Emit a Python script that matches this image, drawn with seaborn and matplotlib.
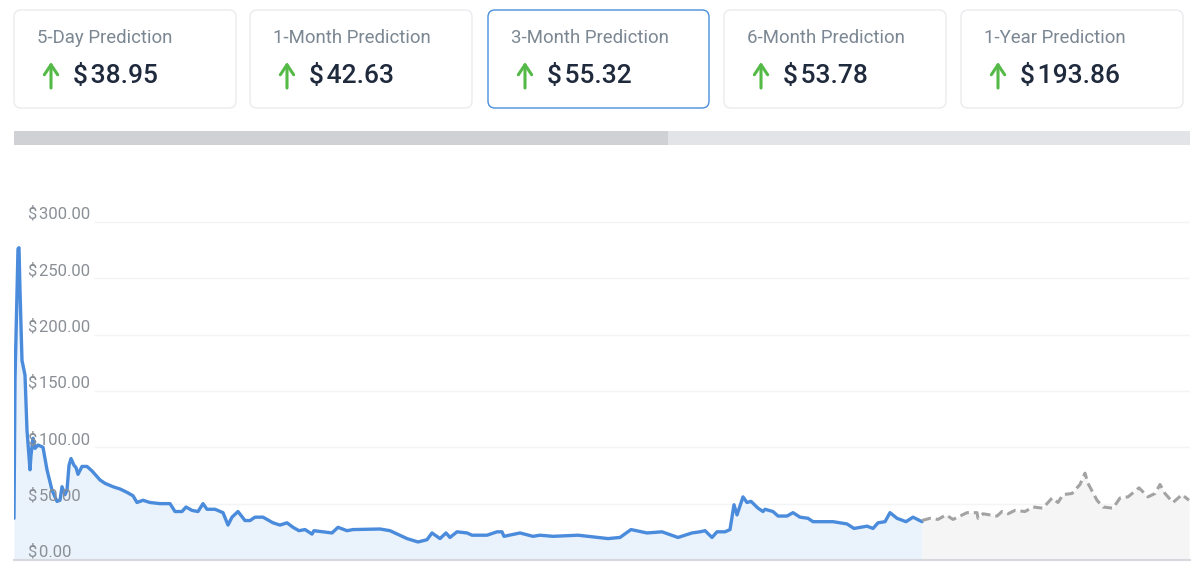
import matplotlib
matplotlib.use("Agg")
import matplotlib.pyplot as plt
import pandas as pd
import seaborn as sns
from matplotlib.patches import FancyBboxPatch, Rectangle

# Prediction cards
card_titles = ["5-Day Prediction", "1-Month Prediction", "3-Month Prediction", "6-Month Prediction", "1-Year Prediction"]
card_values = [38.95, 42.63, 55.32, 53.78, 193.86]
active_card = 2

price_ticks = [0, 50, 100, 150, 200, 250, 300]

# Price history
hist_day = [0, 1, 4, 5, 6, 8, 11, 13, 16, 17, 19, 21, 24, 29, 33, 38, 43, 46, 48, 51, 53, 55, 57, 60, 62, 64, 68, 73, 78,
            86, 91, 99, 106, 113, 119, 123, 129, 136, 146, 156, 161, 168, 172, 178, 184, 189, 193, 201, 209, 214, 218,
            224, 231, 236, 241, 249, 259, 266, 273, 279, 285, 291, 298, 300, 309, 318, 324, 333, 339, 366, 376, 393,
            404, 413, 418, 426, 432, 436, 443, 453, 458, 473, 483, 488, 490, 506, 519, 526, 539, 564, 594, 606, 617,
            633, 648, 664, 678, 686, 691, 698, 703, 711, 716, 720, 723, 729, 733, 737, 744, 749, 751, 759, 764, 773,
            779, 786, 794, 799, 819, 833, 840, 853, 859, 864, 871, 876, 883, 892, 899, 908]
hist_price = [37, 160, 276, 277, 239, 177, 164, 115, 80, 93, 108, 99, 102, 100, 80, 62, 52, 53, 65, 58, 62, 84, 90, 84, 82, 76, 83, 83, 79,
              71, 68, 65, 63, 60, 57, 51, 53, 51, 50, 50, 43, 43, 47, 44, 43, 50, 45, 45, 42, 31, 38,
              43, 35, 35, 38, 38, 33, 31, 33, 29, 26, 27, 23, 26, 25, 24, 29, 26, 27, 27.5, 26, 19,
              16, 18, 24, 19, 24, 20, 25, 24, 22, 22, 25, 25, 21, 24, 21, 22, 21, 22, 19, 20, 27,
              24, 25, 20, 24, 25, 26, 20, 25, 25, 27, 49, 40, 56, 51, 52, 46, 43, 45, 43, 39, 39,
              42, 38, 37, 34, 34, 32, 28, 30, 28, 33, 34, 42, 37, 34, 38, 34]

# Forecast part
pred_day = [908, 916, 924, 932, 939, 953, 963, 964, 969, 983, 988, 994, 1001, 1011, 1019, 1029, 1038, 1044, 1049, 1058,
            1066, 1071, 1074, 1083, 1089, 1099, 1106, 1114, 1125, 1134, 1141, 1146, 1151, 1159, 1168, 1175]
pred_price = [35, 37, 36, 40, 36, 42, 42, 37, 41, 39, 43, 41, 44, 43, 47, 46, 55, 51, 58, 59,
              67, 77, 68, 53, 47, 46, 55, 56, 64, 56, 59, 67, 59, 51, 58, 53]

hist_df = pd.DataFrame({"day": hist_day, "price": hist_price})
pred_df = pd.DataFrame({"day": pred_day, "price": pred_price})

sns.set_theme(style="white")
plt.rcParams["font.family"] = ["Roboto", "DejaVu Sans"]

fig = plt.figure(figsize=(12, 5.7), dpi=100, facecolor="white")

# top strip, drawn in pixel coordinates
top = fig.add_axes([0, 0, 1, 1], zorder=0)
top.set_xlim(0, 1200)
top.set_ylim(570, 0)
top.axis("off")

card_left = [14, 250, 488, 724, 961]
for i, (title, value) in enumerate(zip(card_titles, card_values)):
    x0 = card_left[i]
    edge = "#4a8fdc" if i == active_card else "#e9ebee"
    top.add_patch(FancyBboxPatch((x0, 10), 222 if i != active_card else 221, 98,
                                 boxstyle="round,pad=0,rounding_size=7", fc="white", ec=edge, lw=1.0))
    top.text(x0 + 23, 38, title, fontsize=13.4, color="#7b8792", va="center", ha="left")
    top.annotate("", xy=(x0 + 37, 62), xytext=(x0 + 37, 88),
                 arrowprops=dict(arrowstyle="->,head_width=0.4,head_length=0.6", color="#55b947", lw=2.2,
                                 shrinkA=0, shrinkB=0))
    top.text(x0 + 59, 76, f"$\u200a{value:.2f}", fontsize=19, fontweight="medium", color="#1f2a3d",
             va="center", ha="left")

# scroll bar under the cards
top.add_patch(Rectangle((668, 131), 522, 14, fc="#e3e4e8", ec="none"))
top.add_patch(Rectangle((14, 131), 654, 14, fc="#cfd1d4", ec="none"))

# chart
ax = fig.add_axes([14 / 1200, 10 / 570, 1176 / 1200, 410 / 570], zorder=1)
ax.patch.set_alpha(0)
ax.set_axisbelow(False)  # labels sit on top of the area and the line
ax.hlines(price_ticks[1:], 80, 1176, color="#f3f4f6", lw=1, zorder=0.5)
ax.fill_between(hist_df["day"], hist_df["price"], color="#eaf2fb", lw=0, zorder=1)
ax.fill_between(pred_df["day"], pred_df["price"], color="#f5f5f5", lw=0, zorder=1)
sns.lineplot(data=hist_df, x="day", y="price", color="#4a8bdc", lw=2.4, ax=ax, zorder=2)
sns.lineplot(data=pred_df, x="day", y="price", color="#a3a3a3", lw=2.2, ax=ax, zorder=2, linestyle=(0, (3, 1.6)))

ax.set_xlim(0, 1176)
ax.set_ylim(0, 363.7)
ax.set_xlabel("")
ax.set_ylabel("")
ax.set_xticks([])
ax.set_yticks(price_ticks)
ax.set_yticklabels([f"$\u200a{t:.2f}" for t in price_ticks], ha="left", va="bottom", fontsize=12, color="#8a8f96")
ax.tick_params(axis="y", length=0, pad=-10)
ax.grid(False)
sns.despine(ax=ax, left=True, top=True, right=True)
ax.spines["bottom"].set_color("#d5d8dc")
ax.spines["bottom"].set_linewidth(1.5)

fig.savefig("out.png", dpi=100)
